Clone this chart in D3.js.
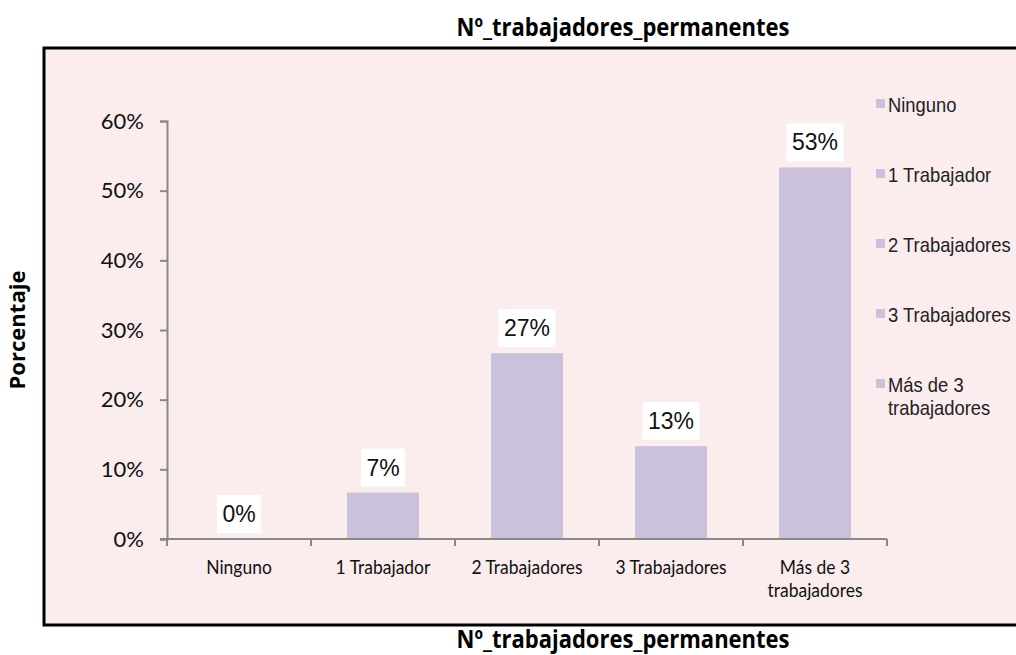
<!DOCTYPE html>
<html><head><meta charset="utf-8">
<script src="https://cdn.jsdelivr.net/npm/d3@7"></script>
<style>body{margin:0;background:#fff}svg{display:block}</style>
</head><body>
<svg id="c" width="1016" height="655"></svg>
<script>
const categories = ["Ninguno", "1 Trabajador", "2 Trabajadores", "3 Trabajadores", "Más de 3 trabajadores"];
const catLabels = [["Ninguno"], ["1 Trabajador"], ["2 Trabajadores"], ["3 Trabajadores"], ["Más de 3", "trabajadores"]];
const values = [0, 6.67, 26.67, 13.33, 53.33];
const valueLabels = ["0%", "7%", "27%", "13%", "53%"];
const yTicks = [0, 10, 20, 30, 40, 50, 60];
const legendLabels = [["Ninguno"], ["1 Trabajador"], ["2 Trabajadores"], ["3 Trabajadores"], ["Más de 3", "trabajadores"]];
const titleText = "Nº_trabajadores_permanentes";
const yTitle = "Porcentaje";

const svg = d3.select("#c");
const barColor = "#ccc1da";

// frame
svg.append("rect").attr("x", 44).attr("y", 48).attr("width", 1000).attr("height", 577)
  .attr("fill", "#fbeced").attr("stroke", "#000").attr("stroke-width", 3);

const x = d3.scaleBand().domain(categories).range([167, 887]).paddingInner(0.5).paddingOuter(0.25);
const y = d3.scaleLinear().domain([0, 60]).range([539, 121]);

// bars
svg.append("g").selectAll("rect").data(values).join("rect")
  .attr("x", (d, i) => x(categories[i])).attr("width", x.bandwidth())
  .attr("y", d => y(d)).attr("height", d => y(0) - y(d)).attr("fill", barColor);

// y axis
const yAxis = svg.append("g").attr("transform", "translate(167,0)")
  .call(d3.axisLeft(y).tickValues(yTicks).tickFormat(d => d + "%").tickSize(7).tickPadding(16));
yAxis.select(".domain").attr("stroke", "#888").attr("stroke-width", 2);
yAxis.selectAll(".tick line").attr("stroke", "#888").attr("stroke-width", 2);
yAxis.selectAll(".tick text").attr("font-family", "Lato, sans-serif").attr("font-size", 22).attr("fill", "#111");

// x axis
const xs = d3.scalePoint().domain(d3.range(categories.length + 1)).range([167, 887]);
const xAxis = svg.append("g").attr("transform", "translate(0,539)");
xAxis.append("line").attr("x1", 160).attr("x2", 887).attr("stroke", "#888").attr("stroke-width", 2);
xAxis.selectAll(".t").data(d3.range(categories.length + 1)).join("line")
  .attr("x1", d => xs(d)).attr("x2", d => xs(d)).attr("y1", 0).attr("y2", 7)
  .attr("stroke", "#888").attr("stroke-width", 2);
xAxis.selectAll(".cl").data(catLabels).join("text")
  .attr("transform", (d, i) => `translate(${x(categories[i]) + x.bandwidth() / 2},35) scale(0.92,1)`)
  .attr("text-anchor", "middle").attr("font-family", "Lato, sans-serif").attr("font-size", 19).attr("fill", "#111")
  .selectAll("tspan").data(d => d).join("tspan")
  .attr("x", 0).attr("dy", (d, i) => i === 0 ? 0 : 23).text(d => d);

// value labels
const lg = svg.append("g");
values.forEach((v, i) => {
  const cx = x(categories[i]) + x.bandwidth() / 2;
  const bottom = y(v) - 6;
  const w = valueLabels[i].length * 13 + 18;
  lg.append("rect").attr("x", cx - w / 2).attr("y", bottom - 38).attr("width", w).attr("height", 38).attr("fill", "#fff");
  lg.append("text").attr("x", cx).attr("y", bottom - 11).attr("text-anchor", "middle")
    .attr("font-family", "'Liberation Sans', Arial, sans-serif").attr("font-size", 23).attr("fill", "#111")
    .text(valueLabels[i]);
});

// legend
const leg = svg.append("g").attr("transform", "translate(876,0)");
legendLabels.forEach((lines, i) => {
  const ly = 105 + i * 70;
  leg.append("rect").attr("x", 0).attr("y", ly - 6).attr("width", 9).attr("height", 9).attr("fill", barColor);
  const t = leg.append("text").attr("transform", `translate(12,${ly + 7}) scale(0.92,1)`)
    .attr("font-family", "'Liberation Sans', Arial, sans-serif").attr("font-size", 20).attr("fill", "#222");
  lines.forEach((l, j) => t.append("tspan").attr("x", 0).attr("dy", j === 0 ? 0 : 23).text(l));
});

// titles
const tf = "'Open Sans', Lato, sans-serif";
svg.append("text").attr("transform", "translate(623,36) scale(1.0,1.1)").attr("text-anchor", "middle")
  .attr("font-family", tf).attr("font-weight", "bold").attr("font-size", 22).text(titleText);
svg.append("text").attr("transform", "translate(623,648) scale(1.0,1.1)").attr("text-anchor", "middle")
  .attr("font-family", tf).attr("font-weight", "bold").attr("font-size", 22).text(titleText);
svg.append("text").attr("transform", "translate(25,330) rotate(-90) scale(1.05,1.05)").attr("text-anchor", "middle")
  .attr("font-family", tf).attr("font-weight", "bold").attr("font-size", 21).text(yTitle);
</script>
</body></html>
